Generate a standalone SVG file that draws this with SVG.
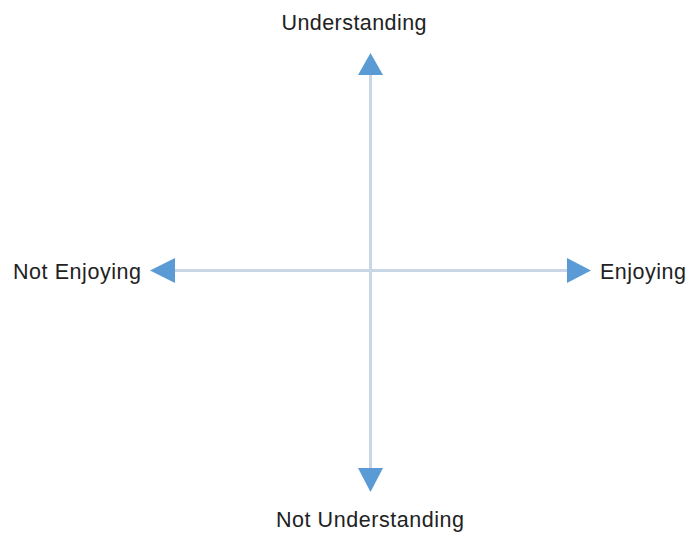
<svg xmlns="http://www.w3.org/2000/svg" width="696" height="533" viewBox="0 0 696 533">
<style>
.lbl{font-family:"Liberation Sans",Arial,sans-serif;font-size:21.5px;fill:#222;}
.axis{stroke:#c8d6e5;stroke-width:3;fill:none;}
.head{fill:#5b9bd5;}
</style>
<rect width="696" height="533" fill="#fff"/>
<g id="connectors">
<line class="axis" x1="370.5" y1="74" x2="370.5" y2="469"/>
<line class="axis" x1="174" y1="270.5" x2="568" y2="270.5"/>
<polygon class="head" points="370.5,53 358,75 383,75"/>
<polygon class="head" points="370.5,492 358,468 383,468"/>
<polygon class="head" points="150,270.5 175,258 175,283"/>
<polygon class="head" points="591,270.5 567,258 567,283"/>
</g>
<g id="understanding"><text class="lbl" x="354" y="30" text-anchor="middle" textLength="145">Understanding</text></g>
<g id="not-understanding"><text class="lbl" x="370" y="527" text-anchor="middle" textLength="188">Not Understanding</text></g>
<g id="not-enjoying"><text class="lbl" x="13" y="279" textLength="128">Not Enjoying</text></g>
<g id="enjoying"><text class="lbl" x="600" y="279" textLength="86">Enjoying</text></g>
</svg>
